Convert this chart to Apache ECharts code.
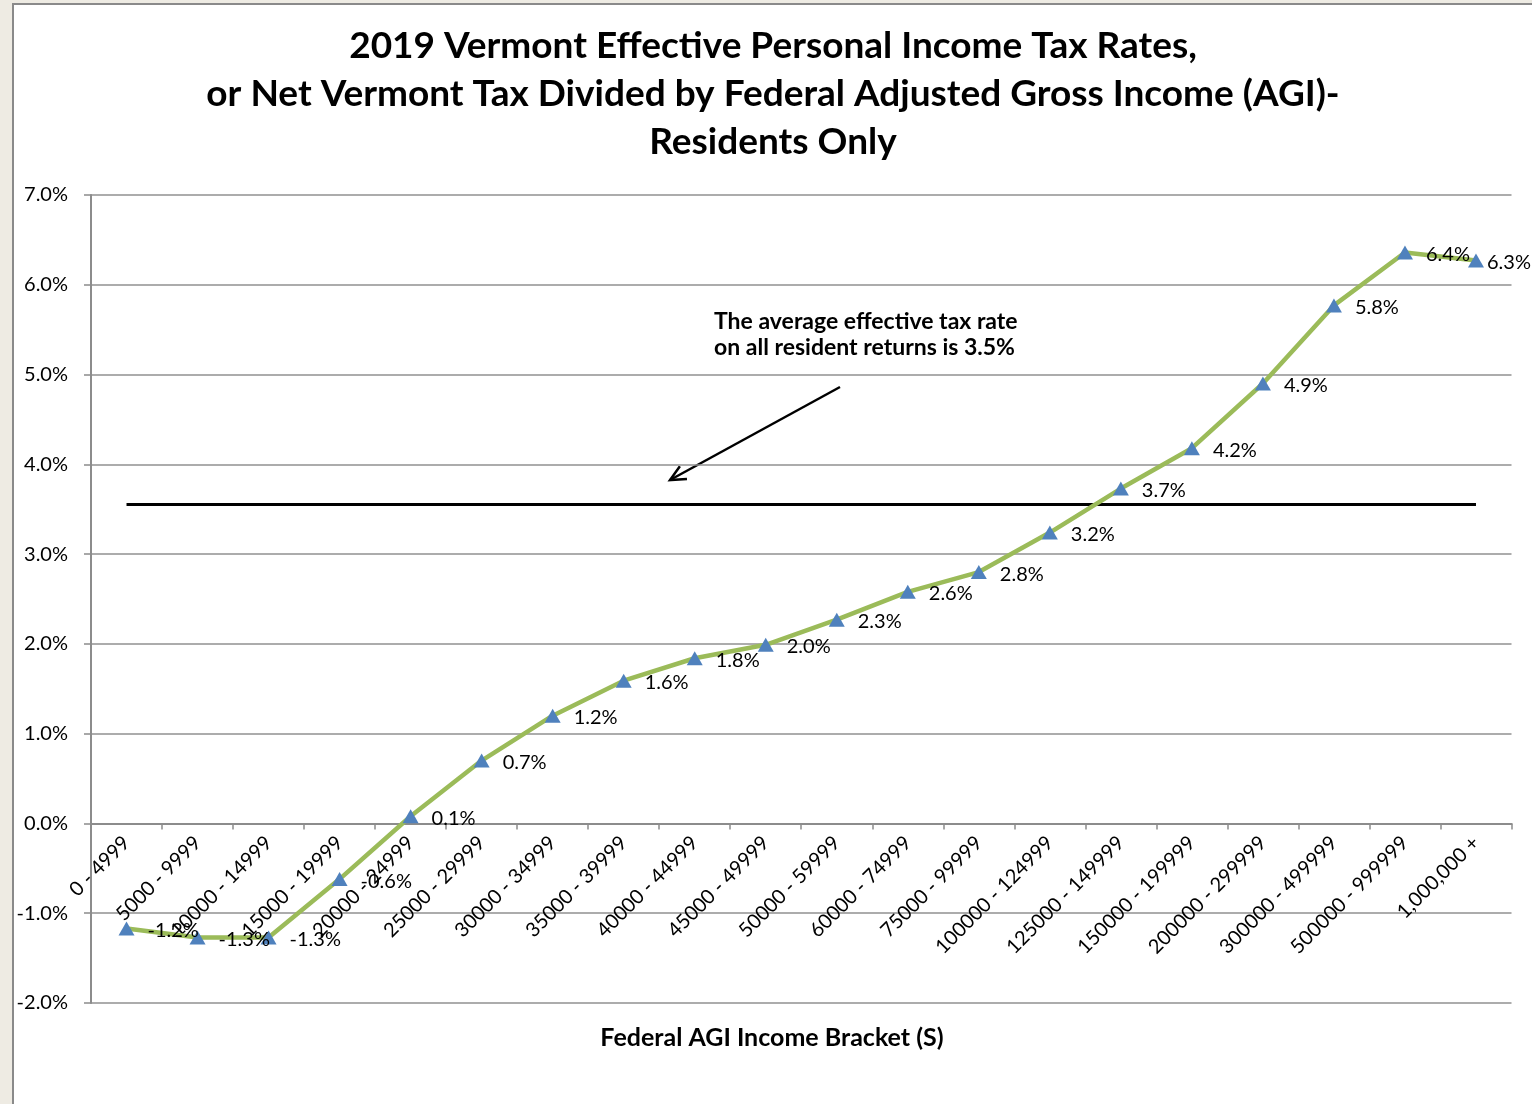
<!DOCTYPE html>
<html>
<head>
<meta charset="utf-8">
<script src="https://cdn.jsdelivr.net/npm/echarts@6/dist/echarts.min.js"></script>
<style>
  html, body { margin: 0; padding: 0; background: #EEEBE3; }
  #frame { position: absolute; left: 12px; top: 3px; width: 1530px; height: 1110px;
           background: #fff; border-left: 2px solid #8a8a8a; border-top: 2px solid #8a8a8a; }
  #chart { position: absolute; left: 0; top: 0; width: 1532px; height: 1104px; }
</style>
</head>
<body>
<div id="frame"></div>
<div id="chart"></div>
<script>
// ---- data ----
const categories = ['0 - 4999', '5000 - 9999', '10000 - 14999', '15000 - 19999', '20000 - 24999',
  '25000 - 29999', '30000 - 34999', '35000 - 39999', '40000 - 44999', '45000 - 49999',
  '50000 - 59999', '60000 - 74999', '75000 - 99999', '100000 - 124999', '125000 - 149999',
  '150000 - 199999', '200000 - 299999', '300000 - 499999', '500000 - 999999', '1,000,000 +'];
const rates = [-1.17, -1.27, -1.27, -0.62, 0.08, 0.70, 1.20, 1.59, 1.84, 1.99,
  2.27, 2.58, 2.80, 3.24, 3.73, 4.18, 4.90, 5.77, 6.36, 6.27];
const avgRate = 3.55;
const yTicks = { min: -2, max: 7, interval: 1 };
const titleLines = ['2019 Vermont Effective Personal Income Tax Rates,',
  'or Net Vermont Tax Divided by Federal Adjusted Gross Income (AGI)-',
  'Residents Only'];
const noteLines = ['The average effective tax rate', 'on all resident returns is 3.5%'];
const xAxisTitle = 'Federal AGI Income Bracket (S)';

const FONT = 'Lato, "Open Sans", sans-serif';
const chart = echarts.init(document.getElementById('chart'), null, { renderer: 'canvas' });

const W = 1532, H = 1104;
const gridBox = { left: 91, right: 20.5, top: 195, bottom: 101 };
const plotH = H - gridBox.top - gridBox.bottom;
// place the category axis at the zero line (Excel style)
const zeroOffset = -plotH * (0 - yTicks.min) / (yTicks.max - yTicks.min);

// arrow geometry (annotation)
const tail = [840, 387], tip = [670, 480];
const dx = tail[0] - tip[0], dy = tail[1] - tip[1];
const len = Math.sqrt(dx * dx + dy * dy);
const ux = dx / len, uy = dy / len;
const hl = 17, ang = Math.PI / 7;
function rot(x, y, a) { return [x * Math.cos(a) - y * Math.sin(a), x * Math.sin(a) + y * Math.cos(a)]; }
const h1 = rot(ux, uy, ang), h2 = rot(ux, uy, -ang);

const seriesData = rates.map((v, i) => i === rates.length - 1
  ? { value: v, label: { distance: 3 } }
  : v);

chart.setOption({
  animation: false,
  backgroundColor: 'transparent',
  textStyle: { fontFamily: FONT },
  grid: Object.assign({ containLabel: false, outerBoundsMode: 'none' }, gridBox),
  xAxis: {
    type: 'category',
    data: categories,
    boundaryGap: true,
    position: 'bottom',
    offset: zeroOffset,
    axisLine: { onZero: false, lineStyle: { color: '#8c8c8c', width: 2 } },
    axisTick: { show: true, interval: 0, length: 6, lineStyle: { color: '#8c8c8c', width: 1.5 } },
    axisLabel: { interval: 0, rotate: 45, margin: 16, fontSize: 20, color: '#000', fontFamily: FONT },
    splitLine: { show: false }
  },
  yAxis: {
    type: 'value',
    min: yTicks.min, max: yTicks.max, interval: yTicks.interval,
    axisLine: { show: true, lineStyle: { color: '#8c8c8c', width: 2 } },
    axisTick: { show: true, length: 7, lineStyle: { color: '#8c8c8c', width: 1.5 } },
    axisLabel: { margin: 23, fontSize: 20, color: '#000', fontFamily: FONT,
      formatter: v => v.toFixed(1) + '%' },
    splitLine: { show: true, lineStyle: { color: '#909090', width: 1.5 } }
  },
  series: [{
    type: 'line',
    data: seriesData,
    symbol: 'triangle',
    symbolSize: [16, 14],
    lineStyle: { color: '#9BBB59', width: 4.5 },
    itemStyle: { color: '#4F81BD' },
    z: 3,
    label: {
      show: true, position: 'right', distance: 13, fontSize: 20, color: '#000', fontFamily: FONT,
      offset: [0, 2],
      formatter: p => (+p.value).toFixed(1) + '%'
    },
    markLine: {
      silent: true, symbol: 'none', z: 2,
      label: { show: false },
      lineStyle: { color: '#000', width: 3, type: 'solid' },
      data: [[{ coord: [0, avgRate] }, { coord: [categories.length - 1, avgRate] }]]
    }
  }],
  graphic: [
    {
      type: 'text', x: 773, y: 94,
      style: { text: titleLines.join('\n'), font: 'bold 37px ' + FONT, fill: '#000',
        align: 'center', verticalAlign: 'middle', lineHeight: 48 }
    },
    {
      type: 'text', x: 772, y: 1038,
      style: { text: xAxisTitle, font: 'bold 25px ' + FONT, fill: '#000',
        align: 'center', verticalAlign: 'middle' }
    },
    {
      type: 'text', x: 714, y: 335,
      style: { text: noteLines.join('\n'), font: 'bold 23px ' + FONT, fill: '#000',
        align: 'left', verticalAlign: 'middle', lineHeight: 26 }
    },
    {
      type: 'line', shape: { x1: tail[0], y1: tail[1], x2: tip[0], y2: tip[1] },
      style: { stroke: '#000', lineWidth: 2.5 }
    },
    {
      type: 'polyline',
      shape: { points: [[tip[0] + h1[0] * hl, tip[1] + h1[1] * hl], tip, [tip[0] + h2[0] * hl, tip[1] + h2[1] * hl]] },
      style: { stroke: '#000', lineWidth: 2.5, fill: null }
    }
  ]
});
</script>
</body>
</html>
